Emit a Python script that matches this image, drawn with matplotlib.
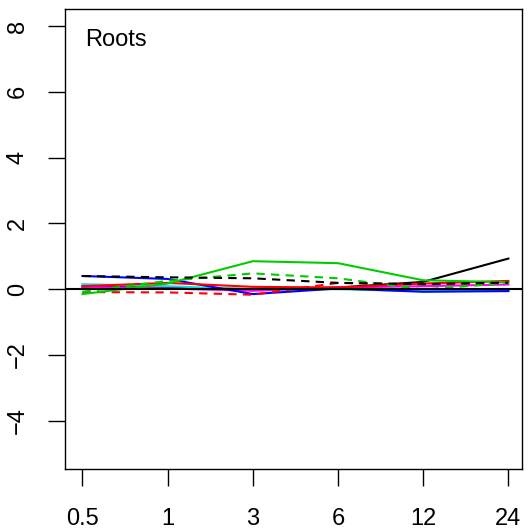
import matplotlib
matplotlib.use("Agg")
import matplotlib.pyplot as plt

plt.rcParams['font.family'] = ['Liberation Sans', 'DejaVu Sans']

times = ["0.5", "1", "3", "6", "12", "24"]

black_solid = [0.08, 0.05, 0.0, 0.05, 0.22, 0.93]
black_dash = [0.40, 0.36, 0.33, 0.19, 0.15, 0.20]
blue_solid = [0.40, 0.31, -0.15, 0.02, -0.08, -0.06]
green_solid = [-0.15, 0.17, 0.85, 0.79, 0.27, 0.21]
green_dash = [-0.08, 0.25, 0.48, 0.33, -0.01, 0.19]
red_solid = [0.09, 0.19, 0.07, 0.05, 0.17, 0.25]
red_dash = [-0.09, -0.10, -0.17, 0.19, 0.15, 0.19]
cyan_solid = [0.15, 0.09, -0.01, 0.0, -0.06, -0.05]
magenta_solid = [0.07, 0.02, -0.05, 0.05, 0.09, 0.14]

series = [
    (black_solid, "black", "-"),
    (cyan_solid, "#00E5E5", "-"),
    (magenta_solid, "#FF00FF", "-"),
    (blue_solid, "blue", "-"),
    (red_solid, "red", "-"),
    (red_dash, "red", (0, (4, 3))),
    (green_solid, "#00CD00", "-"),
    (green_dash, "#00CD00", (0, (4, 3))),
    (black_dash, "black", (0, (4, 3))),
]

fig = plt.figure(figsize=(5.28, 5.32), dpi=100)
# box: x 65..522, y 9..469 px
ax = fig.add_axes([65 / 528, 63 / 532, 457 / 528, 460 / 532])

x = list(range(1, len(times) + 1))
for vals, col, ls in series:
    ax.plot(x, vals, color=col, linestyle=ls, linewidth=1.5)

ax.axhline(0, color="black", linewidth=1.5)

ax.set_xlim(0.795, 6.16)
ax.set_ylim(-5.47, 8.52)
ax.set_xticks(x)
ax.set_xticklabels(times)
ax.set_yticks([-4, -2, 0, 2, 4, 6, 8])
ax.set_yticklabels(["\u22124", "\u22122", "0", "2", "4", "6", "8"], rotation=90, va="center")
ax.tick_params(axis="both", labelsize=17, length=12, width=1)
ax.tick_params(axis="x", pad=16)
ax.tick_params(axis="y", pad=14)
for s in ax.spines.values():
    s.set_linewidth(1)

ax.text(0.044, 0.957, "Roots", transform=ax.transAxes, fontsize=17, va="top", ha="left")

fig.savefig("out.png", dpi=100)
